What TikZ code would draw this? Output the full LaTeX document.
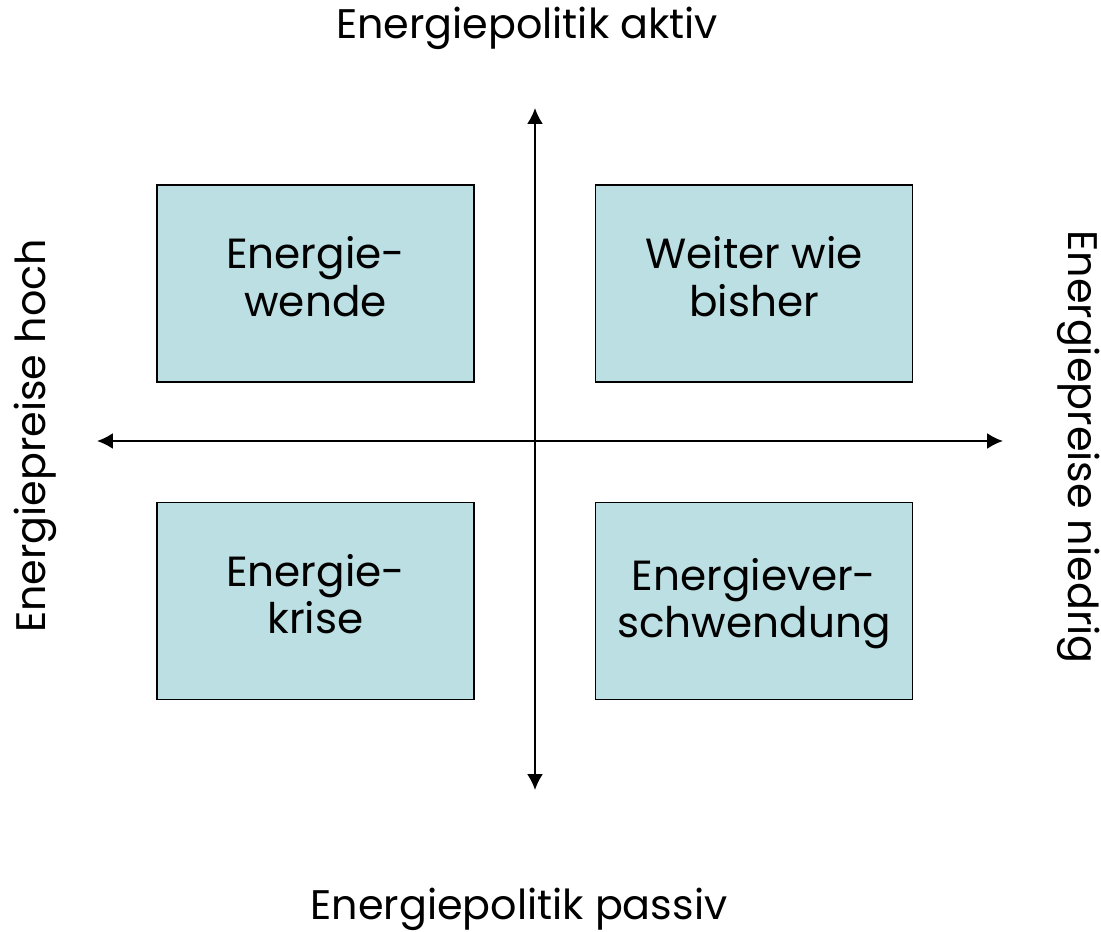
\documentclass[tikz,border=0pt]{standalone}
\usepackage{fontspec}
\setmainfont{Poppins}
\usepackage{xcolor}
\usepackage{tikz}
\usetikzlibrary{arrows.meta}
\usetikzlibrary{positioning}
\definecolor{boxfill}{HTML}{BBDFE3}
\tikzset{
  MyBox/.style={
    rectangle, draw=black, line width=1pt, fill=boxfill,
    minimum width=6.34cm, minimum height=3.94cm,
  },
  MyText/.style={
    align=center, inner sep=0pt,
    font=\fontsize{24}{27}\selectfont,
  },
  MyLabel/.style={
    inner sep=0pt, anchor=base, font=\fontsize{23.5}{28}\selectfont,
  },
  MyAxis/.style={
    {Latex[length=9pt,width=9pt]}-{Latex[length=9pt,width=9pt]},
    line width=1.1pt, draw=black,
  },
}

\begin{document}
\begin{tikzpicture}[x=0.02cm,y=-0.02cm]
\useasboundingbox (0,0) rectangle (1101,932);
% four quadrants
\node[MyBox] (EW) at (315.5,283.5) {};
\node[MyBox] (WB) at (754,283.5) {};
\node[MyBox] (EK) at (315.5,601) {};
\node[MyBox] (EV) at (754,601) {};
\node[MyText] (EWtext) at ([yshift=4pt]EW.center) {Energie-\\wende};
\node[MyText] (WBtext) at ([yshift=4pt]WB.center) {Weiter wie\\bisher};
\node[MyText] (EKtext) at ([yshift=4pt]EK.center) {Energie-\\krise};
\node[MyText] (EVtext) at ([yshift=-1.5pt]EV.center) {Energiever-\\schwendung};
% axes
\coordinate (TOP) at (535,108);
\coordinate (BOT) at (535,790);
\coordinate (LEFT) at (97,441);
\coordinate (RIGHT) at (1003,441);
\draw[MyAxis] (BOT) to (TOP);
\draw[MyAxis] (LEFT) to (RIGHT);
% axis labels
\node[MyLabel] (AKTIV) at (527,39) {Energiepolitik aktiv};
\node[MyLabel] (PASSIV) at (519,919) {Energiepolitik passiv};
\node[MyLabel, rotate=90] (HOCH) at (45,436) {Energiepreise hoch};
\node[MyLabel, rotate=-90] (NIEDRIG) at (1068,447) {Energiepreise niedrig};
\end{tikzpicture}
\end{document}
